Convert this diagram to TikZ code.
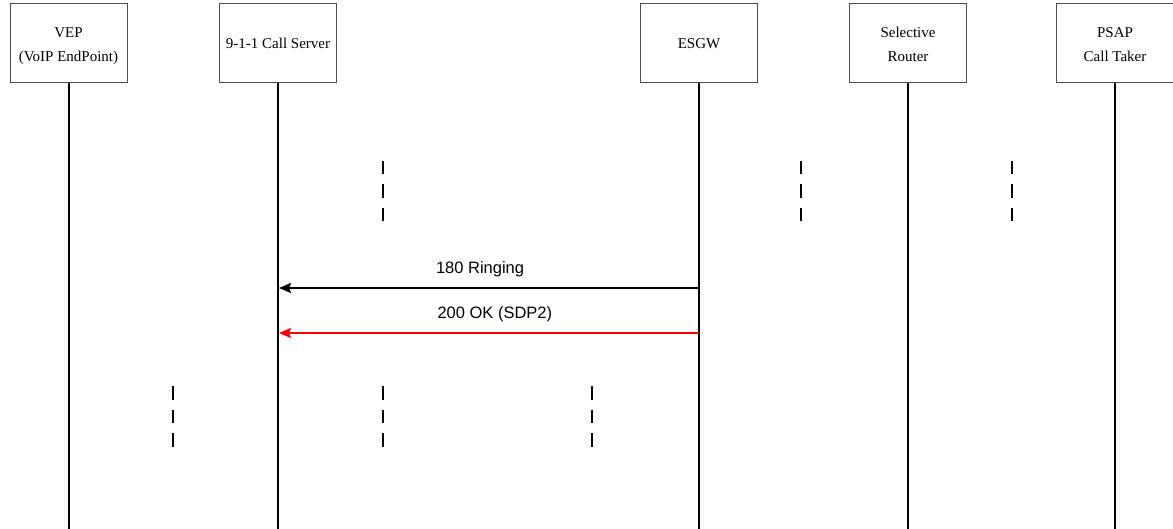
\documentclass[tikz,border=0pt]{standalone}
\usepackage{fontspec}
\setmainfont{Liberation Serif}
\newfontfamily\msgfont{Liberation Sans}
\usetikzlibrary{arrows.meta}

\definecolor{okred}{RGB}{255,0,0}

\begin{document}
\begin{tikzpicture}[
    x=1pt, y=-1pt,
    >={Stealth[length=12pt,width=10pt,inset=2pt]},
    entity/.style={draw=black!70, line width=1pt, fill=white, align=center,
                   font=\fontsize{15}{24}\selectfont, inner sep=0pt,
                   minimum width=117pt, minimum height=79pt},
    entity2/.style={entity, text height=37pt, text depth=0pt},
    life/.style={line width=2pt},
    msg/.style={->, line width=2pt, shorten >=1pt},
    lab/.style={font=\msgfont\fontsize{16.5}{19}\selectfont, inner sep=0pt, above=10pt},
    cont/.style={line width=1.5pt, dash pattern=on 13.5pt off 10pt},
]
  \useasboundingbox (0,0) rectangle (1173,529);

  % ---------------- entities ----------------
  \node[entity2] (vep)  at (68.5, 43.5)  {VEP\\(VoIP EndPoint)};
  \node[entity]  (cs)   at (278, 43.5)   {9-1-1 Call Server};
  \node[entity]  (esgw) at (699, 43.5)   {ESGW};
  \node[entity2] (sr)   at (908, 43.5)   {Selective\\Router};
  \node[entity2] (psap) at (1115, 43.5)  {PSAP\\Call Taker};

  % ---------------- lifelines ----------------
  \coordinate (bot) at (0, 529);
  \foreach \e in {vep, cs, esgw, sr, psap}
    \draw[life] (\e.south) -- (\e.south |- bot);

  % ---------------- continuation marks ----------------
  \foreach \x in {383, 801, 1012}
    \draw[cont] (\x, 161) -- (\x, 221);
  \foreach \x in {173, 383, 592}
    \draw[cont] (\x, 386) -- (\x, 447);

  % ---------------- messages ----------------
  \coordinate (ring) at (0, 288);
  \coordinate (ok)   at (0, 333);
  \draw[msg] (esgw |- ring) -- node[lab, pos=0.52] {180 Ringing} (cs |- ring);
  \draw[msg, okred] (esgw |- ok) -- node[lab, black, pos=0.485] {200 OK (SDP2)} (cs |- ok);
\end{tikzpicture}
\end{document}
